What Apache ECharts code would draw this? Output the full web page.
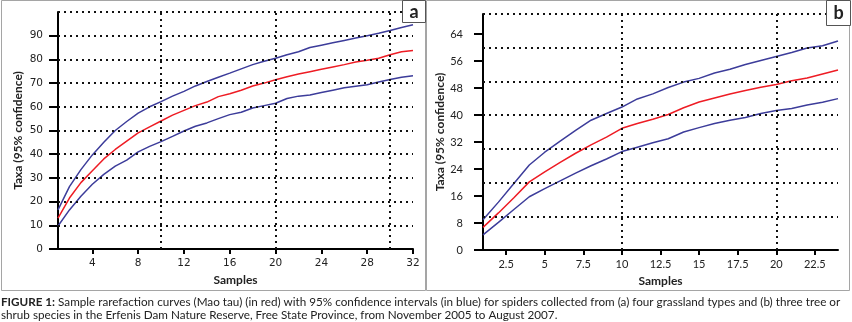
<!DOCTYPE html>
<html>
<head>
<meta charset="utf-8">
<script src="https://cdn.jsdelivr.net/npm/echarts@6/dist/echarts.min.js"></script>
<style>
html, body { margin: 0; padding: 0; background: #fff; }
#chart { width: 852px; height: 322px; }
</style>
</head>
<body>
<div id="chart"></div>
<script>
// (a) four grassland types
var samplesA = [1, 2, 3, 4, 5, 6, 7, 8, 9, 10, 11, 12, 13, 14, 15, 16, 17, 18, 19, 20, 21, 22, 23, 24, 25, 26, 27, 28, 29, 30, 31, 32]
var maoTauA = [13, 21.5, 28, 33, 38, 42, 45.5, 49, 51.5, 54, 56.5, 58.5, 60.5, 62, 64.3, 65.5, 67, 68.8, 70, 71.4, 72.7, 73.8, 74.8, 75.8, 76.8, 77.8, 78.9, 79.6, 80.5, 82, 83.2, 83.8]
var upperA = [16.5, 26.3, 33.5, 39.7, 45, 50, 53.8, 57.3, 60, 62.2, 64.5, 66.5, 68.8, 70.7, 72.5, 74.2, 76, 77.8, 79.2, 80.5, 82, 83.2, 85, 86, 87, 88, 89, 90, 91, 92.2, 93.5, 94.6]
var lowerA = [9.7, 16.5, 22.3, 27.3, 31.5, 35, 37.5, 41, 43.3, 45.3, 47.5, 49.8, 51.8, 53.2, 55, 56.7, 57.7, 59.5, 60.5, 61.5, 63.5, 64.5, 65, 66, 67, 68, 68.7, 69.3, 70.5, 71.5, 72.5, 73.1]
var xTicksA = [4, 8, 12, 16, 20, 24, 28, 32]
var yTicksA = [0, 10, 20, 30, 40, 50, 60, 70, 80, 90]
var gridXA = [10, 20, 30]
var gridYA = [10, 20, 30, 40, 50, 60, 70, 80, 90, 100]

// (b) three tree or shrub species
var samplesB = [1, 2, 3, 4, 5, 6, 7, 8, 9, 10, 11, 12, 13, 14, 15, 16, 17, 18, 19, 20, 21, 22, 23, 24]
var maoTauB = [6.7, 11, 15.5, 20.2, 23.2, 26, 28.7, 31.2, 33.5, 36.1, 37.5, 38.8, 40.2, 42.2, 43.9, 45.1, 46.3, 47.3, 48.3, 49.1, 50.2, 51, 52.2, 53.4]
var upperB = [9, 14.2, 19.7, 25.2, 29, 32.3, 35.5, 38.5, 40.5, 42.4, 44.8, 46.3, 48.2, 49.8, 50.9, 52.5, 53.6, 55, 56.2, 57.4, 58.6, 59.9, 60.6, 62]
var lowerB = [4.5, 8.2, 12, 15.8, 18.2, 20.5, 22.8, 25, 27, 29.2, 30.5, 31.8, 33, 35, 36.3, 37.5, 38.5, 39.3, 40.5, 41.4, 42, 43, 43.8, 44.9]
var xTicksB = [2.5, 5, 7.5, 10, 12.5, 15, 17.5, 20, 22.5]
var yTicksB = [0, 8, 16, 24, 32, 40, 48, 56, 64]
var gridXB = [10, 20]
var gridYB = [10, 20, 30, 40, 50, 60, 70]

var caption1 = 'Sample rarefaction curves (Mao tau) (in red) with 95% confidence intervals (in blue) for spiders collected from (a) four grassland types and (b) three tree or'
var caption2 = 'shrub species in the Erfenis Dam Nature Reserve, Free State Province, from November 2005 to August 2007.'

var RED = '#ee1c24'
var BLUE = '#3c3c9a'

function pairs(xs, ys) {
  return xs.map(function (x, i) { return [x, ys[i]] })
}

function gridLines(xs, ys) {
  var d = []
  xs.forEach(function (v) { d.push({ xAxis: v }) })
  ys.forEach(function (v) { d.push({ yAxis: v }) })
  return d
}

function curve(name, idx, xs, ys, color) {
  return {
    name: name,
    type: 'line',
    xAxisIndex: idx,
    yAxisIndex: idx,
    data: pairs(xs, ys),
    showSymbol: false,
    z: 3,
    lineStyle: { color: color, width: 1.5 }
  }
}

function dotted(idx, xs, ys) {
  return {
    type: 'line',
    xAxisIndex: idx,
    yAxisIndex: idx,
    data: [],
    z: 1,
    silent: true,
    markLine: {
      silent: true,
      symbol: 'none',
      label: { show: false },
      lineStyle: { color: '#111', width: 2, type: [2, 4] },
      data: gridLines(xs, ys)
    }
  }
}

function xAxis(idx, min, max, ticks, font, size) {
  return {
    gridIndex: idx,
    type: 'value',
    min: min,
    max: max,
    name: 'Samples',
    nameLocation: 'middle',
    nameGap: 21,
    nameTextStyle: { fontFamily: 'Lato', fontWeight: 'bold', fontSize: 12, color: '#222' },
    axisLine: { lineStyle: { color: '#000', width: 2 } },
    axisTick: { customValues: ticks, length: 5, lineStyle: { color: '#000', width: 2 } },
    axisLabel: { customValues: ticks, margin: 9, fontFamily: font, fontSize: size, color: '#222' },
    splitLine: { show: false }
  }
}

function yAxis(idx, max, ticks, font, size, margin, gap) {
  return {
    gridIndex: idx,
    type: 'value',
    min: 0,
    max: max,
    name: 'Taxa (95% confidence)',
    nameLocation: 'middle',
    nameGap: gap,
    nameTextStyle: { fontFamily: 'Lato', fontWeight: 'bold', fontSize: 12, color: '#222' },
    axisLine: { show: true, lineStyle: { color: '#000', width: 2 } },
    axisTick: { show: true, customValues: ticks, length: 9, lineStyle: { color: '#000', width: 2 } },
    axisLabel: { customValues: ticks, margin: margin, fontFamily: font, fontSize: size, color: '#222' },
    splitLine: { show: false }
  }
}

var chart = echarts.init(document.getElementById('chart'))
chart.setOption({
  animation: false,
  backgroundColor: '#fff',
  grid: [
    { left: 58, top: 12, right: 439, bottom: 73 },
    { left: 483, top: 14, right: 14, bottom: 72 }
  ],
  xAxis: [
    xAxis(0, 1, 32, xTicksA, 'DejaVu Sans', 10.5),
    xAxis(1, 1, 24, xTicksB, 'Lato', 11)
  ],
  yAxis: [
    yAxis(0, 100, yTicksA, 'DejaVu Sans', 10.5, 15, 34),
    yAxis(1, 70, yTicksB, 'Lato', 11, 20, 35)
  ],
  series: [
    dotted(0, gridXA, gridYA),
    curve('upper', 0, samplesA, upperA, BLUE),
    curve('Mao tau', 0, samplesA, maoTauA, RED),
    curve('lower', 0, samplesA, lowerA, BLUE),
    dotted(1, gridXB, gridYB),
    curve('upper', 1, samplesB, upperB, BLUE),
    curve('Mao tau', 1, samplesB, maoTauB, RED),
    curve('lower', 1, samplesB, lowerB, BLUE)
  ],
  graphic: [
    { type: 'rect', silent: true, z: -1, shape: { x: 1.5, y: 0.5, width: 424, height: 290 }, style: { fill: null, stroke: '#a5a5a5', lineWidth: 1 } },
    { type: 'rect', silent: true, z: -1, shape: { x: 426.5, y: 0.5, width: 423, height: 290 }, style: { fill: null, stroke: '#a5a5a5', lineWidth: 1 } },
    { type: 'rect', silent: true, z: 10, shape: { x: 402.5, y: 0.5, width: 23, height: 22 }, style: { fill: '#fff', stroke: '#555', lineWidth: 1 } },
    { type: 'text', silent: true, z: 11, x: 414, y: 12, style: { text: 'a', fontFamily: 'Lato', fontWeight: 'bold', fontSize: 18, fill: '#222', align: 'center', verticalAlign: 'middle' } },
    { type: 'rect', silent: true, z: 10, shape: { x: 826.5, y: 0.5, width: 24, height: 25 }, style: { fill: '#fff', stroke: '#555', lineWidth: 1 } },
    { type: 'text', silent: true, z: 11, x: 838.5, y: 13, style: { text: 'b', fontFamily: 'Lato', fontWeight: 'bold', fontSize: 18, fill: '#222', align: 'center', verticalAlign: 'middle' } },
    {
      type: 'text', silent: true, x: 1, y: 295,
      style: {
        text: '{b|FIGURE 1:} ' + caption1 + '\n' + caption2,
        fontFamily: 'Lato', fontSize: 11.7, lineHeight: 13.5, fill: '#222',
        rich: { b: { fontFamily: 'Lato', fontWeight: 'bold', fontSize: 11.7, fill: '#222' } }
      }
    }
  ]
})
</script>
</body>
</html>
